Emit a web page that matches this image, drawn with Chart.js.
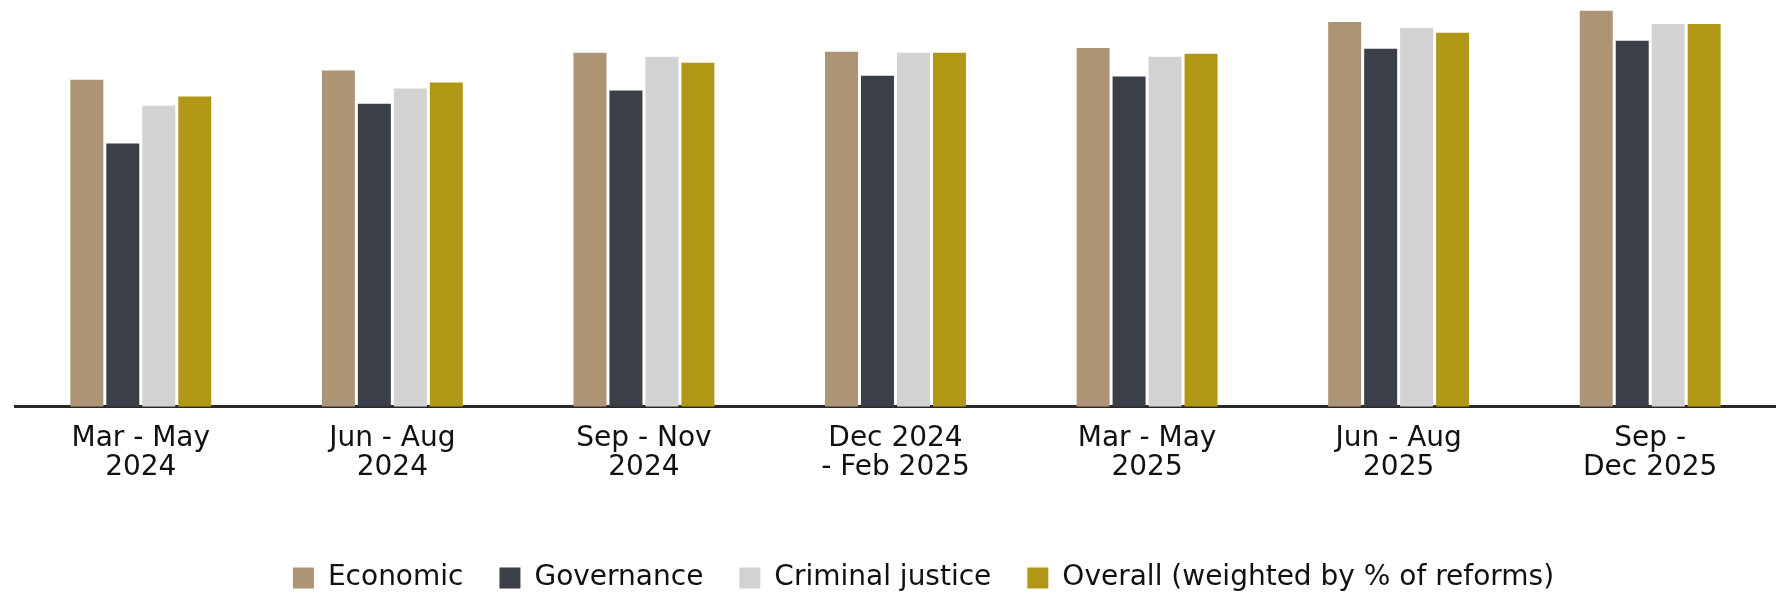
<!DOCTYPE html>
<html>
<head>
<meta charset="utf-8">
<title>Reform scores by period</title>
<script src="https://cdn.jsdelivr.net/npm/chart.js@4.4.1/dist/chart.umd.min.js"></script>
<style>
    html, body { margin: 0; padding: 0; background: #fff; overflow: hidden; }
    #chartWrap { width: 1776px; height: 594px; position: relative; }
</style>
</head>
<body>
<div id="chartWrap"><canvas id="reformChart"></canvas></div>
<script>
// Periods (x axis), two-line labels
const periods = [
    ['Mar - May', '2024'],
    ['Jun - Aug', '2024'],
    ['Sep - Nov', '2024'],
    ['Dec 2024', '- Feb 2025'],
    ['Mar - May', '2025'],
    ['Jun - Aug', '2025'],
    ['Sep -', 'Dec 2025']
];

// Values (no axis in the original, 0-100 scale assumed)
const economic  = [82.0, 84.3, 88.8, 89.0, 90.0, 96.5, 99.3];
const governance = [66.0, 76.0, 79.3, 83.0, 82.8, 89.8, 91.8];
const criminalJustice = [75.5, 79.8, 87.8, 88.8, 87.8, 95.0, 96.0];
const overall = [77.8, 81.3, 86.3, 88.8, 88.5, 93.8, 96.0];

const seriesNames = ['Economic', 'Governance', 'Criminal justice', 'Overall (weighted by % of reforms)'];

const colors = {
    economic: '#ac9475',
    governance: '#3b3f48',
    criminal: '#d2d2d2',
    overall: '#b09816',
    text: '#111111',
    axis: '#2a2729'
};

const FONT = "'DejaVu Sans', 'Liberation Sans', sans-serif";

// move the legend a little after layout so it sits where the original has it
const legendNudge = {
    id: 'legendNudge',
    afterLayout(chart, args, opts) {
        const lg = chart.legend;
        if (!lg) return;
        lg.left += opts.dx; lg.right += opts.dx;
        lg.top += opts.dy; lg.bottom += opts.dy;
    }
};

function makeDataset(label, data, color) {
    return {
        label: label,
        data: data,
        backgroundColor: color,
        borderWidth: 0,
        barPercentage: 0.917,
        categoryPercentage: 0.572
    };
}

const ctx = document.getElementById('reformChart').getContext('2d');

new Chart(ctx, {
    type: 'bar',
    data: {
        labels: periods,
        datasets: [
            makeDataset(seriesNames[0], economic, colors.economic),
            makeDataset(seriesNames[1], governance, colors.governance),
            makeDataset(seriesNames[2], criminalJustice, colors.criminal),
            makeDataset(seriesNames[3], overall, colors.overall)
        ]
    },
    plugins: [legendNudge],
    options: {
        responsive: true,
        maintainAspectRatio: false,
        animation: false,
        layout: {
            padding: { top: 8, left: 15, right: 0, bottom: 21 }
        },
        plugins: {
            legend: {
                display: true,
                position: 'bottom',
                labels: {
                    boxWidth: 21,
                    boxHeight: 21,
                    padding: 36,
                    color: colors.text,
                    font: { family: FONT, size: 28 }
                }
            },
            legendNudge: { dx: 28, dy: 29 },
            tooltip: { enabled: false }
        },
        scales: {
            x: {
                grid: { display: false, drawTicks: false },
                border: { display: true, color: colors.axis, width: 3 },
                ticks: {
                    color: colors.text,
                    autoSkip: false,
                    maxRotation: 0,
                    padding: 17,
                    font: { family: FONT, size: 28, lineHeight: 1.04 }
                }
            },
            y: {
                display: false,
                min: 0,
                max: 100
            }
        }
    }
});
</script>
</body>
</html>
